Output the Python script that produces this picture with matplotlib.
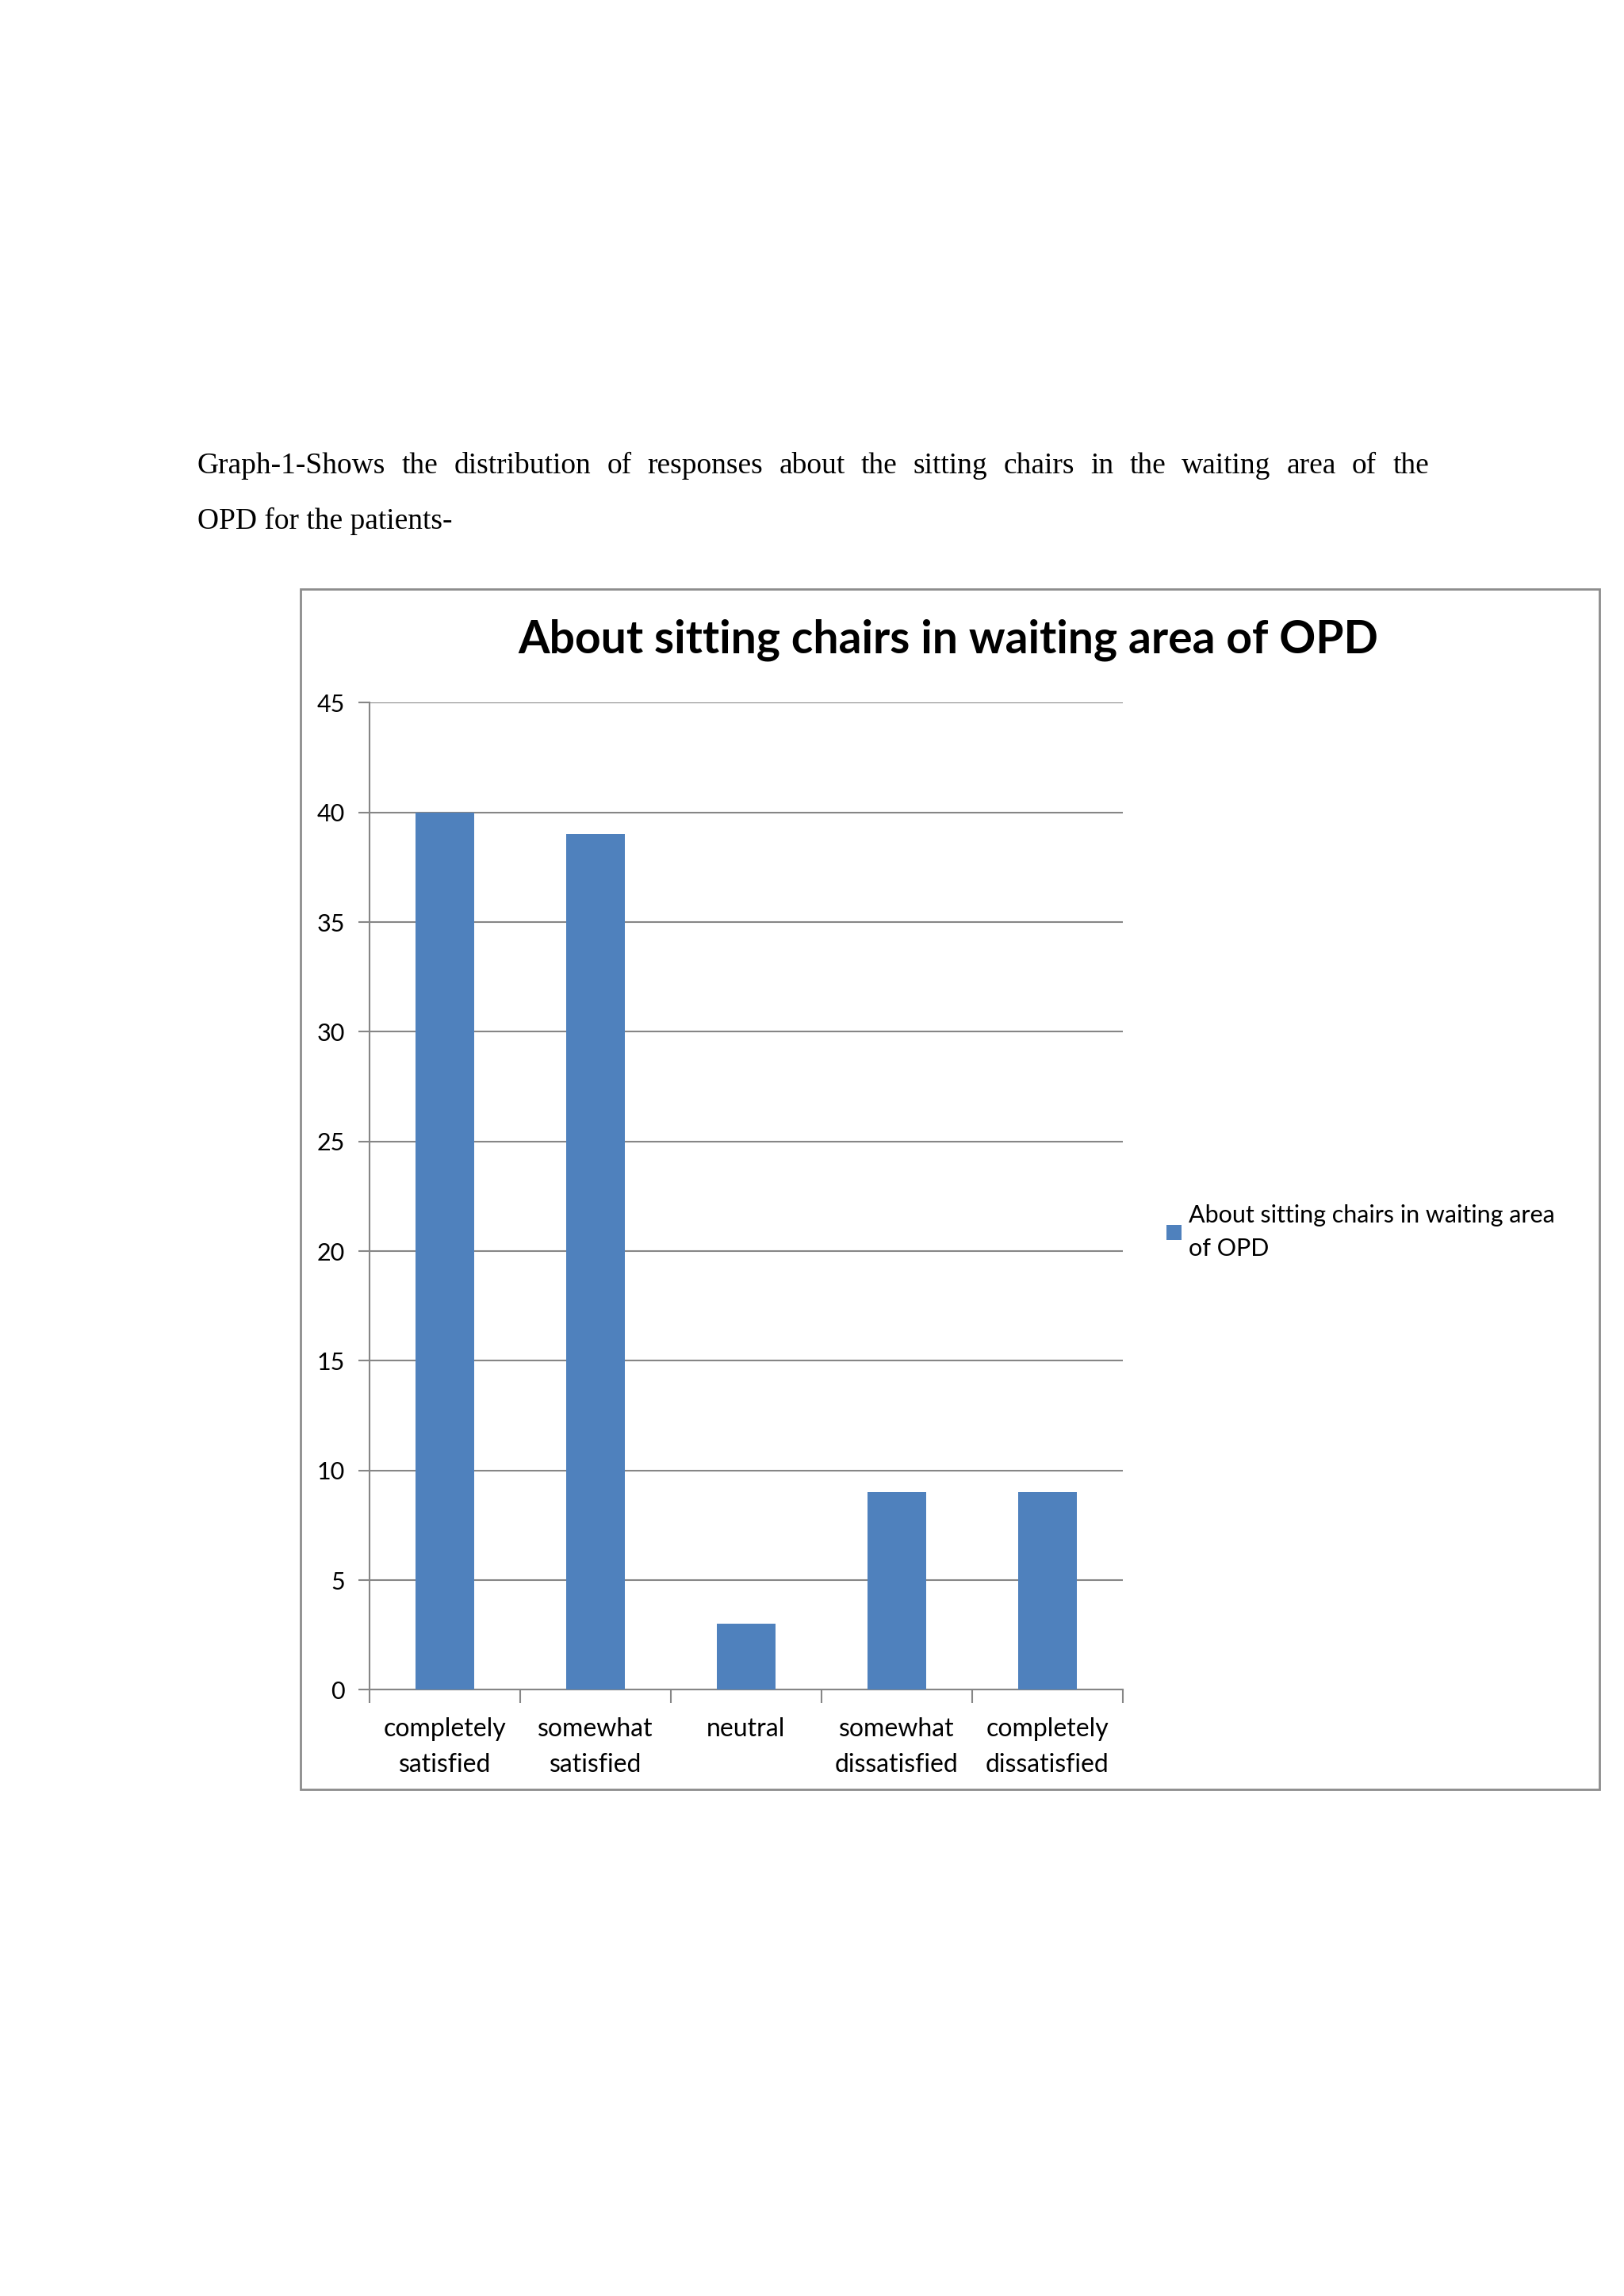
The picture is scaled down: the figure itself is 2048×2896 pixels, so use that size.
import matplotlib
matplotlib.use('Agg')
import matplotlib.pyplot as plt
from matplotlib.patches import Rectangle

# data
categories = ['completely\nsatisfied', 'somewhat\nsatisfied', 'neutral',
              'somewhat\ndissatisfied', 'completely\ndissatisfied']
values = [40, 39, 3, 9, 9]
yticks = [0, 5, 10, 15, 20, 25, 30, 35, 40, 45]
title = 'About sitting chairs in waiting area of OPD'
series_name = 'About sitting chairs in waiting area\nof OPD'
line1 = 'Graph-1-Shows the distribution of responses about the sitting chairs in the waiting area of the'
line2 = 'OPD for the patients-'

bar_color = '#4F81BD'
grid_color = '#868686'
sans = ['Lato', 'DejaVu Sans']

fig = plt.figure(figsize=(20.48, 28.96), dpi=100)
fig.patch.set_facecolor('white')

# caption above chart, justified first line
W = fig.get_figwidth() * fig.dpi
x0, x1 = 249 / W, 1802 / W
words = line1.split()
renderer = fig.canvas.get_renderer()
texts = []
for w in words:
    t = fig.text(0, 0.797, w, fontsize=27, family='Liberation Serif',
                 va='center', ha='left')
    texts.append(t)
widths = [t.get_window_extent(renderer).width / W for t in texts]
gap = ((x1 - x0) - sum(widths)) / (len(words) - 1)
pos = x0
for t, wd in zip(texts, widths):
    t.set_x(pos)
    pos += wd + gap
fig.text(x0, 0.773, line2, fontsize=27, family='Liberation Serif',
         va='center', ha='left')

# chart frame
frame = Rectangle((0.185, 0.2207), 0.7997, 0.5229, transform=fig.transFigure,
                  facecolor='white', edgecolor='#8c8c8c', linewidth=2,
                  zorder=-1)
fig.patches.append(frame)

fig.text(0.584, 0.7213, title, fontsize=41, fontweight='bold', family=sans,
         ha='center', va='center')

ax = fig.add_axes([0.2274, 0.2640, 0.4639, 0.4299])
ax.set_facecolor('none')
x = range(len(categories))
bars = ax.bar(x, values, width=0.39, color=bar_color, zorder=3,
              label=series_name)
ax.set_xlim(-0.5, len(categories) - 0.5)
ax.set_ylim(0, 45)
ax.set_yticks(yticks)
ax.set_yticklabels([str(v) for v in yticks], fontsize=22, family=sans)
ax.yaxis.grid(True, color=grid_color, linewidth=1.5, zorder=0)
ax.set_xticks(list(x))
ax.set_xticklabels(categories, fontsize=23, family=sans, linespacing=1.6)
ax.tick_params(axis='x', length=0, pad=25)
ax.set_xticks([i + 0.5 for i in range(-1, len(categories))], minor=True)
ax.tick_params(axis='x', which='minor', length=12, width=1.5, color=grid_color)
ax.tick_params(axis='y', length=10, width=1.5, color=grid_color, pad=12)
for s in ['top', 'right']:
    ax.spines[s].set_visible(False)
for s in ['left', 'bottom']:
    ax.spines[s].set_color(grid_color)
    ax.spines[s].set_linewidth(1.5)

leg = fig.legend(handles=[bars], labels=[series_name], loc='center left',
                 bbox_to_anchor=(0.705, 0.4635), frameon=False,
                 prop={'family': sans, 'size': 22}, handlelength=0.6,
                 handleheight=0.6, handletextpad=0.3)
leg.get_texts()[0].set_linespacing(1.6)

fig.savefig('out.png', dpi=100, facecolor='white')
